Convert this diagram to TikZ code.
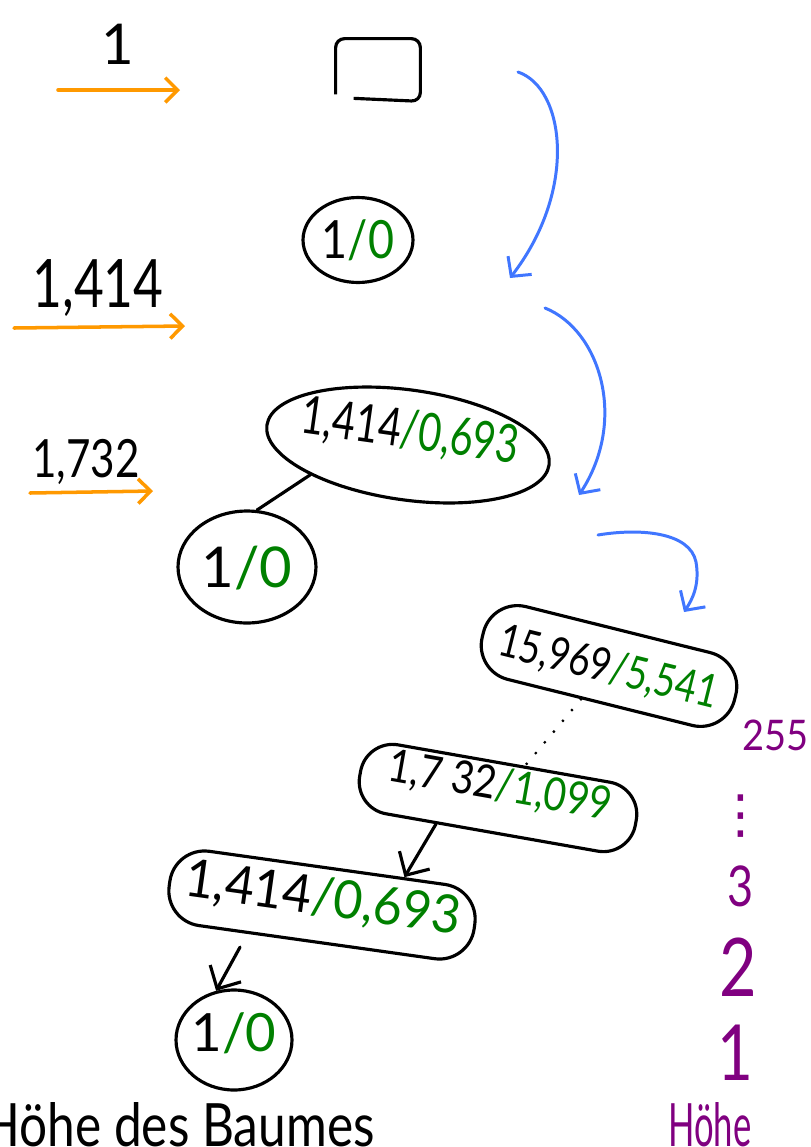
\documentclass[tikz,border=0pt]{standalone}
\usepackage{graphicx}
\usepackage{fontspec}
\setmainfont{Lato}
\newfontfamily\dvfont{DejaVu Sans}
\usetikzlibrary{shapes.geometric,arrows.meta,calc}
\definecolor{hwgreen}{RGB}{0,128,0}
\definecolor{hwpurple}{RGB}{128,0,128}
\definecolor{hworange}{RGB}{255,153,0}
\definecolor{hwblue}{RGB}{64,118,255}
\newcommand\cnd[2]{\scalebox{#1}[1]{#2}}
\newcommand\fs[1]{\fontsize{#1}{#1}\selectfont}
\newcommand\ctr[2][0pt]{\makebox[0pt]{\raisebox{\dimexpr-.36em+#1\relax}[0pt][0pt]{#2}}}
\begin{document}
\begin{tikzpicture}[x=0.02cm,y=-0.02cm,
  outl/.style={draw=black,line width=1.8pt},
  oval/.style={outl,ellipse,inner sep=0pt},
  sausage/.style={outl,rectangle,inner sep=0pt},
  orangearrow/.style={draw=hworange,line width=2pt,line cap=round,-{Straight Barb[length=7pt,width=14pt]}},
  bluearrow/.style={draw=hwblue,line width=1.7pt,line cap=round,-{Straight Barb[length=8pt,width=17pt]}},
  blackarrow/.style={draw=black,line width=1.8pt,line cap=round,-{Straight Barb[length=10pt,width=20pt]}},
  lbl/.style={inner sep=0pt},
  hgt/.style={lbl,text=hwpurple},
]
\fill[white] (0,0) rectangle (811,1147);
\useasboundingbox (0,0) rectangle (811,1147);
\clip (0,0) rectangle (811,1147);

% left labels and orange arrows
\node[lbl] (t1) at (118,44) {\fs{32}1};
\node[lbl] (t2) at (98,288) {\fs{38}\cnd{.77}{1,414}};
\node[lbl] (t3) at (86,462) {\fs{30}\cnd{.8}{1,732}};
\coordinate (o1s) at (58,90);  \coordinate (o1e) at (180,90);
\coordinate (o2s) at (14,328); \coordinate (o2e) at (185,326);
\coordinate (o3s) at (30,493); \coordinate (o3e) at (153,491);
\draw[orangearrow] (o1s) -- (o1e);
\draw[orangearrow] (o2s) -- (o2e);
\draw[orangearrow] (o3s) -- (o3e);

% empty root box
\node[minimum width=1.68cm, minimum height=1.24cm, inner sep=0pt] (root) at (378,70) {};
\draw[outl, rounded corners=5pt] ([xshift=0.36cm,yshift=0.06cm]root.south west) -- (root.south east) -- (root.north east) -- (root.north west) -- ([yshift=0.14cm]root.south west);

% tree nodes
\node[oval, minimum width=2.2cm, minimum height=1.7cm] (n1) at (358,240)
  {\fs{30}\ctr{\cnd{.85}{1\textcolor{hwgreen}{/0}}}};
\node[oval, rotate=-8, minimum width=5.7cm, minimum height=2.2cm] (n2) at (408,445)
  {\fs{30}\ctr[9pt]{\cnd{.75}{1,414\textcolor{hwgreen}{/0,693}}}};
\node[oval, minimum width=2.76cm, minimum height=2.24cm] (n2c) at (247,567)
  {\fs{32}\ctr{1\textcolor{hwgreen}{/0}}};
\node[sausage, rounded corners=0.7cm, rotate=-14, minimum width=5.2cm, minimum height=1.5cm] (n3) at (609,666)
  {\fs{26}\ctr{\cnd{.8}{15,969\textcolor{hwgreen}{/5,541}}}};
\node[sausage, rounded corners=0.65cm, rotate=-10, minimum width=5.6cm, minimum height=1.4cm] (n4) at (498,798)
  {\fs{26}\ctr[8pt]{\cnd{.85}{1,7 32\textcolor{hwgreen}{/1,099}}}};
\node[sausage, rounded corners=0.7cm, rotate=-8, minimum width=6.16cm, minimum height=1.5cm] (n5) at (322,905)
  {\fs{30}\ctr[5pt]{\cnd{.95}{1,414\textcolor{hwgreen}{/0,693}}}};
\node[oval, minimum width=2.32cm, minimum height=2.0cm] (n6) at (234,1040)
  {\fs{30}\ctr[4pt]{1\textcolor{hwgreen}{/0}}};

% connectors
\draw[outl, line cap=round] (n2.205) -- (n2c.80);
\draw[line width=1.8pt, line cap=round, dash pattern=on 0pt off 8pt] (n3) -- (n4);
\draw[blackarrow] ($(n4.south)!0.4!(n4.south west)$) -- ($(n5.north)!0.5!(n5.north east)$);
\draw[blackarrow, shorten <=0.3cm] ($(n5.south)!0.45!(n5.south west)$) -- (n6.110);

% blue arrows
\coordinate (b1s) at (518,72);  \coordinate (b1e) at (510,278);
\coordinate (b2s) at (545,308); \coordinate (b2e) at (579,495);
\coordinate (b3s) at (598,535); \coordinate (b3m) at (696,562); \coordinate (b3e) at (684,612);
\draw[bluearrow] (b1s) .. controls (565,88) and (578,190) .. (b1e);
\draw[bluearrow] (b2s) .. controls (600,330) and (628,420) .. (b2e);
\draw[bluearrow] (b3s) .. controls (640,528) and (690,532) .. (b3m) .. controls (700,585) and (692,600) .. (b3e);

% height scale
\node[hgt, anchor=west] (h255) at (742,735) {\fs{24}\cnd{.9}{255}};
\node[hgt] (hdots) at (741,816) {\fs{30}\dvfont ⋮};
\node[hgt] (h3) at (741,886) {\fs{32}\cnd{.8}{3}};
\node[hgt] (h2) at (738,967) {\fs{46}\cnd{.8}{2}};
\node[hgt] (hone) at (735,1053) {\fs{44}\cnd{.8}{1}};
\node[hgt, anchor=base west] (hoehe) at (668,1146) {\fs{34}\cnd{.58}{Höhe}};

% bottom caption
\node[lbl, anchor=base west] (hdb) at (-18,1146) {\fs{34}\cnd{.83}{Höhe des Baumes}};
\end{tikzpicture}
\end{document}
